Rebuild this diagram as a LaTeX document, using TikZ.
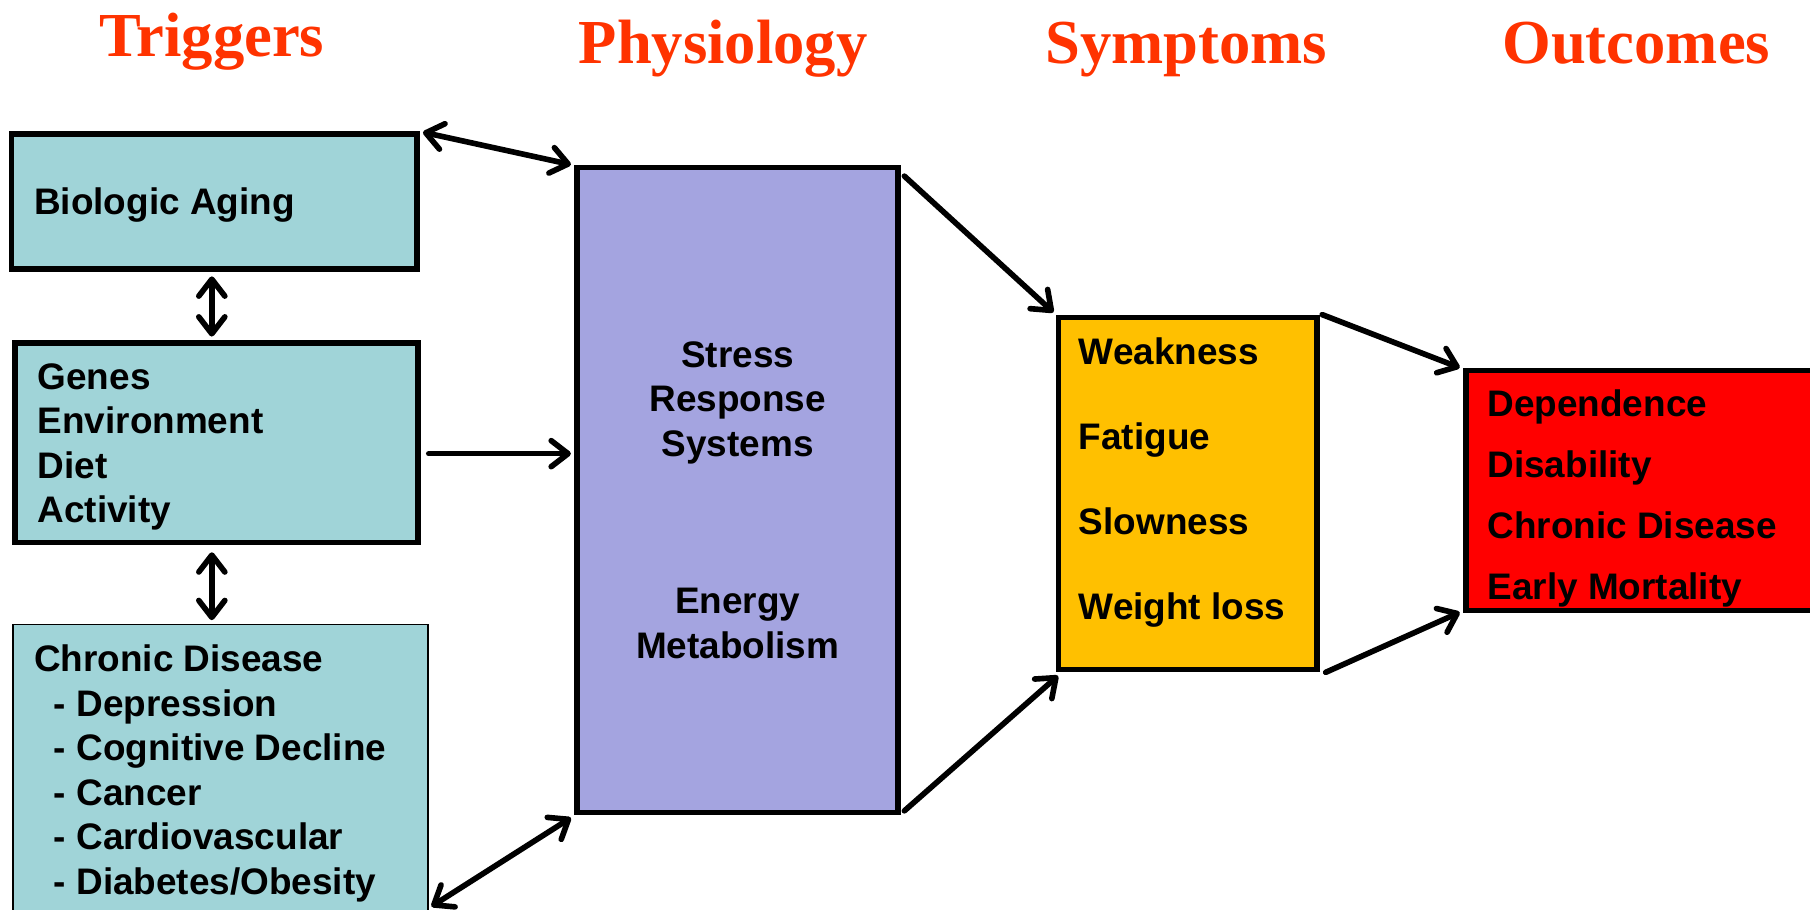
\documentclass[tikz,border=0pt]{standalone}
\usepackage{fontspec}
\setmainfont{Liberation Sans}
\newfontfamily\titlefont{Liberation Serif}
\usetikzlibrary{arrows.meta,fit,calc}
\definecolor{tealbox}{RGB}{160,212,216}
\definecolor{purplebox}{RGB}{164,164,224}
\definecolor{yellowbox}{RGB}{255,192,0}
\definecolor{redbox}{RGB}{255,0,0}
\definecolor{titlered}{RGB}{255,51,0}
\begin{document}
\begin{tikzpicture}[x=0.011543cm,y=-0.011543cm,
  box/.style={draw=black,line width=1.6pt,inner sep=0pt},
  thinbox/.style={draw=black,line width=0.5pt,inner sep=0pt},
  txt/.style={inner sep=0pt,font=\bfseries\fontsize{10.5}{12.65}\selectfont,align=left,anchor=west},
  ctxt/.style={inner sep=0pt,font=\bfseries\fontsize{10.5}{12.65}\selectfont,align=center},
  title/.style={inner sep=0pt,anchor=base,text=titlered,font=\titlefont\bfseries\fontsize{17.8}{20}\selectfont},
  tip/.tip={Straight Barb[length=4.8pt,width=7.4pt,line width=1.6pt,round]},
  conn/.style={line width=1.6pt,line cap=round,-tip},
  dconn/.style={line width=1.6pt,line cap=round,tip-tip}
]
\useasboundingbox (0,0) rectangle (1568,788);
\clip (0,0) rectangle (1568,788);
\fill[white] (0,0) rectangle (1568,788);

% titles
\node[title] (t1) at (183.5,49) {Triggers};
\node[title] (t2) at (626.5,55) {Physiology};
\node[title] (t3) at (1027.5,55) {Symptoms};
\node[title] (t4) at (1417.5,55) {Outcomes};

% boxes
\node[box,fill=tealbox,fit={(10,116) (361,233)}] (bio) {};
\node[box,fill=tealbox,fit={(13,297) (362,470)}] (genes) {};
\node[thinbox,fill=tealbox,fit={(11,541) (371,800)}] (cd) {};
\node[box,fill=purplebox,fit={(500,145) (778,704)}] (phys) {};
\node[box,fill=yellowbox,fit={(917,275) (1141,580)}] (sym) {};
\node[box,fill=redbox,fit={(1270,321) (1585,529)}] (out) {};

% texts
\node[txt] (biot) at (29,178) {Biologic Aging};
\node[txt] (genest) at (32,387) {Genes\\Environment\\Diet\\Activity};
\node[txt] (cdt) at (29,670) {Chronic Disease\\
\hspace*{5.6pt}- Depression\\
\hspace*{5.6pt}- Cognitive Decline\\
\hspace*{5.6pt}- Cancer\\
\hspace*{5.6pt}- Cardiovascular\\
\hspace*{5.6pt}- Diabetes/Obesity};
\node[ctxt] (physt1) at (639,349) {Stress\\Response\\Systems};
\node[ctxt] (physt2) at (639,540) {Energy\\Metabolism};
\node[txt,font=\bfseries\fontsize{10.5}{24.15}\selectfont] (symt) at (934,418) {Weakness\\Fatigue\\Slowness\\Weight loss};
\node[txt,font=\bfseries\fontsize{10.5}{17.3}\selectfont] (outt) at (1288,432) {Dependence\\Disability\\Chronic Disease\\Early Mortality};

% connectors
\draw[dconn] ($(bio.north east)+(3,1)$) -- ($(phys.north west)+(-3,0)$);
\draw[dconn] ($(bio.south)+(-2,4)$) -- ($(bio.south |- genes.north)+(-2,-3)$);
\draw[dconn] ($(genes.south)+(-4,6)$) -- ($(genes.south |- cd.north)+(-4,-3)$);
\draw[conn] ($(genes.east)+(7,9.5)$) -- ($(phys.west)+(-3,-31.5)$);
\draw[dconn] ($(cd.north east)+(2,245)$) -- ($(phys.south west)+(-3,2)$);
\draw[conn] ($(phys.north east)+(3,10)$) -- ($(sym.north west)+(-2,-2)$);
\draw[conn] ($(phys.south east)+(3,-4)$) -- ($(sym.south west)+(2,3)$);
\draw[conn] ($(sym.north east)+(2,0)$) -- ($(out.north west)+(-3,0)$);
\draw[conn] ($(sym.south east)+(5,0)$) -- ($(out.south west)+(-3,-1)$);
\end{tikzpicture}
\end{document}
